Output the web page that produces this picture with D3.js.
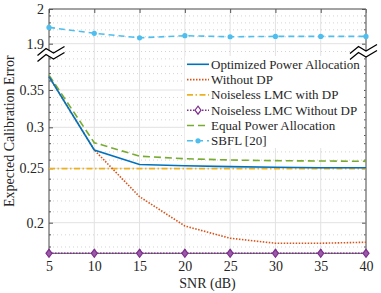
<!DOCTYPE html>
<html><head><meta charset="utf-8">
<script src="https://cdn.jsdelivr.net/npm/d3@7"></script>
<style>
body{margin:0;background:#fff}
text{font-family:"Liberation Serif","Times New Roman",serif;fill:#262626}
</style>
</head><body>
<svg id="c" width="381" height="293"></svg>
<script>
// ---- data ----
const snr = [5, 10, 15, 20, 25, 30, 35, 40];
const optimized   = [0.366, 0.2723, 0.2546, 0.2532, 0.2520, 0.2512, 0.2507, 0.2507];
const withoutDP   = [0.366, 0.2723, 0.2239, 0.1973, 0.1872, 0.1831, 0.1831, 0.1839];
const lmcWithDP   = [0.2497, 0.2497, 0.2497, 0.2497, 0.2497, 0.2497, 0.2497, 0.2497];
const lmcWithoutDP= [0.175, 0.175, 0.175, 0.175, 0.175, 0.175, 0.175, 0.175];
const equalPower  = [0.368, 0.2812, 0.2648, 0.2617, 0.2601, 0.2593, 0.2589, 0.2585];
const sbfl        = [1.947, 1.930, 1.917, 1.923, 1.920, 1.921, 1.921, 1.921];
const xTicks = [5, 10, 15, 20, 25, 30, 35, 40];
const yTopTicks = [1.9, 2];
const yTopMinor = [1.92, 1.94, 1.96, 1.98];
const yBotTicks = [0.2, 0.25, 0.3, 0.35];
const yBotMinor = [0.18, 0.19, 0.21, 0.22, 0.23, 0.24, 0.26, 0.27, 0.28, 0.29,
                   0.31, 0.32, 0.33, 0.34, 0.36, 0.37, 0.38, 0.39, 0.40];
const seriesNames = ["Optimized Power Allocation", "Without DP", "Noiseless LMC with DP",
                     "Noiseless LMC Without DP", "Equal Power Allocation", "SBFL [20]"];
const xLabel = "SNR (dB)";
const yLabel = "Expected Calibration Error";

// ---- layout ----
const L = 49, R = 366, T = 9, B = 253.3;
const svg = d3.select("#c");
const x = d3.scaleLinear().domain([5, 40]).range([L, R]);
const yTop = d3.scaleLinear().domain([1.9, 2]).range([43.7, T]);
const yBot = d3.scaleLinear()
  .domain([0.175, 0.18, 0.2, 0.25, 0.3, 0.35, 0.36, 0.40])
  .range([B, 247, 222.7, 168.3, 127.3, 90, 81, 51.5]);

const gridMajor = "#e2e2e2", gridMinor = "#c8c8c8";
const g = svg.append("g");

// vertical grid
g.selectAll(".vg").data(xTicks).join("line")
  .attr("x1", d => x(d)).attr("x2", d => x(d)).attr("y1", T).attr("y2", B)
  .attr("stroke", gridMajor).attr("stroke-width", 1);
// minor horizontal
const minorLines = yTopMinor.map(v => yTop(v)).concat(yBotMinor.map(v => yBot(v)));
g.selectAll(".mg").data(minorLines).join("line")
  .attr("x1", L).attr("x2", R).attr("y1", d => d).attr("y2", d => d)
  .attr("stroke", gridMinor).attr("stroke-width", 0.8).attr("stroke-dasharray", "1,3");
// major horizontal
const majorLines = yTopTicks.map(v => yTop(v)).concat(yBotTicks.map(v => yBot(v)));
g.selectAll(".hg").data(majorLines).join("line")
  .attr("x1", L).attr("x2", R).attr("y1", d => d).attr("y2", d => d)
  .attr("stroke", gridMajor).attr("stroke-width", 1);

// ---- axes (ticks inward) ----
function styleAxis(sel) {
  sel.select(".domain").remove();
  sel.selectAll(".tick line").attr("stroke", "#555");
  sel.selectAll("text").style("font-size", "14px").attr("fill", "#262626");
}
svg.append("g").attr("transform", `translate(0,${B})`)
  .call(d3.axisBottom(x).tickValues(xTicks).tickSize(-4).tickPadding(7.5).tickFormat(d => String(d)))
  .call(styleAxis);
svg.append("g").attr("transform", `translate(0,${T})`)
  .call(d3.axisTop(x).tickValues(xTicks).tickSize(-4).tickFormat(""))
  .call(styleAxis);
svg.append("g").attr("transform", `translate(${L},0)`)
  .call(d3.axisLeft(yTop).tickValues(yTopTicks).tickSize(-4).tickPadding(5).tickFormat(d => String(d)))
  .call(styleAxis);
svg.append("g").attr("transform", `translate(${L},0)`)
  .call(d3.axisLeft(yBot).tickValues(yBotTicks).tickSize(-4).tickPadding(5).tickFormat(d => String(d)))
  .call(styleAxis);
svg.append("g").attr("transform", `translate(${R},0)`)
  .call(d3.axisRight(yTop).tickValues(yTopTicks).tickSize(-4).tickFormat(""))
  .call(styleAxis);
svg.append("g").attr("transform", `translate(${R},0)`)
  .call(d3.axisRight(yBot).tickValues(yBotTicks).tickSize(-4).tickFormat(""))
  .call(styleAxis);
// minor ticks
svg.selectAll(".mt").data(minorLines).join("g").each(function(d) {
  d3.select(this).append("line").attr("x1", L).attr("x2", L + 2).attr("y1", d).attr("y2", d).attr("stroke", "#555");
  d3.select(this).append("line").attr("x1", R - 2).attr("x2", R).attr("y1", d).attr("y2", d).attr("stroke", "#555");
});

// frame
const frame = svg.append("g").attr("stroke", "#555").attr("stroke-width", 1).attr("fill", "none");
frame.append("line").attr("x1", L).attr("x2", L).attr("y1", T).attr("y2", B);
frame.append("line").attr("x1", R).attr("x2", R).attr("y1", T).attr("y2", B).attr("stroke", "#888").attr("stroke-width", 1.5);
frame.append("line").attr("x1", L).attr("x2", R).attr("y1", B).attr("y2", B);
frame.append("line").attr("x1", L).attr("x2", R).attr("y1", T).attr("y2", T);

// ---- series ----
const series = [
  {name: seriesNames[0], vals: optimized,   y: yBot, color: "#0072BD", dash: null,        w: 1.6},
  {name: seriesNames[1], vals: withoutDP,   y: yBot, color: "#D95319", dash: "1.5,1.5",   w: 1.6},
  {name: seriesNames[2], vals: lmcWithDP,   y: yBot, color: "#EDB120", dash: "6,2.5,1.5,2.5", w: 1.6},
  {name: seriesNames[3], vals: lmcWithoutDP,y: yBot, color: "#7E2F8E", dash: "1.5,1.5",   w: 1.6, marker: "diamond"},
  {name: seriesNames[4], vals: equalPower,  y: yBot, color: "#77AC30", dash: "7,4",       w: 1.6},
  {name: seriesNames[5], vals: sbfl,        y: yTop, color: "#4DBEEE", dash: "6,4",       w: 1.6, marker: "circle"}
];
const drawOrder = [4, 2, 1, 0, 3, 5];
drawOrder.forEach(i => {
  const s = series[i];
  const line = d3.line().x((d, k) => x(snr[k])).y(d => s.y(d));
  svg.append("path").datum(s.vals).attr("d", line).attr("fill", "none")
    .attr("stroke", s.color).attr("stroke-width", s.w)
    .attr("stroke-dasharray", s.dash);
  if (s.marker === "circle") {
    svg.selectAll(null).data(s.vals).join("circle")
      .attr("cx", (d, k) => x(snr[k])).attr("cy", d => s.y(d)).attr("r", 2.6).attr("fill", s.color);
  }
  if (s.marker === "diamond") {
    svg.selectAll(null).data(s.vals).join("path")
      .attr("transform", (d, k) => `translate(${x(snr[k])},${s.y(d)})`)
      .attr("d", "M0,-4L3,0L0,4L-3,0Z").attr("fill", "#9a5aa8").attr("stroke", s.color).attr("stroke-width", 1.2);
  }
});

// ---- break symbols ----
function brk(x0, y0) {
  const up = [[0, 0], [8.5, -7], [16, -2.5], [27, -9]];
  const lo = up.map(p => [p[0], p[1] + 6]);
  const poly = up.concat(lo.slice().reverse());
  svg.append("path").attr("d", "M" + poly.map(p => (x0 + p[0]) + "," + (y0 + p[1])).join("L") + "Z")
    .attr("fill", "#fff").attr("stroke", "none");
  [up, lo].forEach(pts => {
    svg.append("path").attr("d", "M" + pts.map(p => (x0 + p[0]) + "," + (y0 + p[1])).join("L"))
      .attr("fill", "none").attr("stroke", "#000").attr("stroke-width", 1.3);
  });
}

// ---- legend ----
const lg = svg.append("g");
lg.append("rect").attr("x", 185).attr("y", 56).attr("width", 179).attr("height", 92).attr("fill", "#fff");
series.forEach((s, i) => {
  const yy = 64.3 + i * 15.3;
  lg.append("line").attr("x1", 187).attr("x2", 209).attr("y1", yy).attr("y2", yy)
    .attr("stroke", s.color).attr("stroke-width", 1.6).attr("stroke-dasharray", s.dash);
  if (s.marker === "circle") lg.append("circle").attr("cx", 198).attr("cy", yy).attr("r", 2.6).attr("fill", s.color);
  if (s.marker === "diamond") lg.append("path").attr("transform", `translate(198,${yy})`)
      .attr("d", "M0,-4L3,0L0,4L-3,0Z").attr("fill", "#fff").attr("stroke", s.color).attr("stroke-width", 1.2);
  lg.append("text").attr("x", 211).attr("y", yy).attr("dy", "0.35em").style("font-size", "13px").text(s.name);
});

brk(37.5, 55.5);
brk(350, 53.5);

// ---- axis labels ----
svg.append("text").attr("x", (L + R) / 2).attr("y", 287.5).attr("text-anchor", "middle")
  .style("font-size", "14px").text(xLabel);
svg.append("text").attr("transform", `translate(13.5,${(T + B) / 2}) rotate(-90)`)
  .attr("text-anchor", "middle").style("font-size", "14px").text(yLabel);
</script>
</body></html>
